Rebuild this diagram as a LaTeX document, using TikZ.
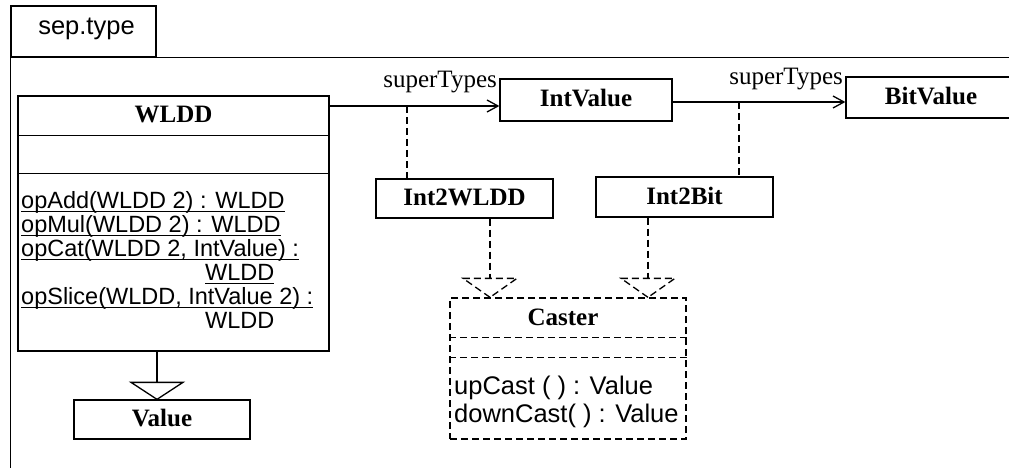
\documentclass[tikz,border=0pt]{standalone}
\usepackage{fontspec}
\setmainfont{Liberation Serif}
\newfontfamily\sansf{Liberation Sans}
\usetikzlibrary{arrows.meta,calc}
\newsavebox\ulbox
\newcommand\myul[1]{\sbox\ulbox{#1}\rlap{\rule[-3.2pt]{\wd\ulbox}{1.2pt}}\usebox\ulbox}
\tikzset{
 lw/.style={line width=1.3pt},
 cls/.style={draw, lw, rectangle, inner sep=0pt, font=\fontsize{25}{30}\selectfont\bfseries, text height=17pt, text depth=3pt},
 meth/.style={anchor=base west, inner sep=0pt, font=\sansf\fontsize{23.5}{24}\selectfont},
 cmeth/.style={anchor=base west, inner sep=0pt, font=\sansf\fontsize{25.5}{28}\selectfont},
 role/.style={anchor=base east, inner sep=0pt, font=\fontsize{25}{30}\selectfont},
 dsh/.style={lw, dash pattern=on 7pt off 4pt},
 assoc/.style={lw, -{Straight Barb[length=11pt,width=12pt]}},
}
\begin{document}
\begin{tikzpicture}[x=1pt,y=-1pt]
\useasboundingbox (0,0) rectangle (1009,468);
% package
\node[draw,lw,minimum width=145pt,minimum height=51pt,inner sep=0pt] (tab) at (83.5,31.5) {};
\node[anchor=base,inner sep=0pt,font=\sansf\fontsize{25.5}{30}\selectfont] (tabt) at (86.5,35) {sep.type};
\draw[lw] (tab.south west -| 1012,0) -| (tab.south west |- 0,472);
% WLDD
\node[draw,lw,minimum width=311pt,minimum height=255pt,inner sep=0pt] (wldd) at (173.5,223.5) {};
\node[cls,draw=none,minimum width=311pt,minimum height=40pt] (wlddt) at (173.5,116) {WLDD};
\draw[lw] ($(wldd.north west)+(0,40)$) -- ($(wldd.north east)+(0,40)$);
\draw[lw] ($(wldd.north west)+(0,78)$) -- ($(wldd.north east)+(0,78)$);
\node[meth] (m1) at (21,208.5) {\myul{opAdd(WLDD 2) : WLDD}};
\node[meth] (m2) at (21,232.5) {\myul{opMul(WLDD 2) : WLDD}};
\node[meth] (m3) at (21,256.5) {\myul{opCat(WLDD 2, IntValue) :}};
\node[meth] (m4) at (205,280.5) {\myul{WLDD}};
\node[meth] (m5) at (21,304.5) {\myul{opSlice(WLDD, IntValue 2) :}};
\node[meth] (m6) at (205,328.5) {WLDD};
% Value
\node[cls,minimum width=176pt,minimum height=39pt] (value) at (162,419.5) {Value};
\coordinate (g) at ($(value.north)+(-5,0)$);
\draw[lw] (g |- wldd.south) -- ($(g)+(0,-17)$);
\draw[lw] (g) -- ++(-26,-17) -- ++(52,0) -- cycle;
% IntValue, BitValue
\node[cls,minimum width=172pt,minimum height=42pt] (intv) at (586,100) {IntValue};
\node[cls,minimum width=170pt,minimum height=41pt] (bitv) at (931,97.5) {BitValue};
\coordinate (a1) at ($(intv.west)+(0,6)$);
\draw[assoc] (a1 -| wldd.east) -- (a1);
\node[role] (r1) at (497,88) {superTypes};
\coordinate (a2) at ($(bitv.west)+(0,4.5)$);
\draw[assoc] (a2 -| intv.east) -- (a2);
\node[role] (r2) at (843,85) {superTypes};
% association classes
\node[cls,minimum width=177pt,minimum height=39pt] (i2w) at (464.5,198.5) {Int2WLDD};
\node[cls,minimum width=177pt,minimum height=40pt] (i2b) at (684.5,197) {Int2Bit};
\coordinate (j1) at (407,106);
\draw[dsh] (j1) -- (j1 |- i2w.north);
\coordinate (j2) at (739,102);
\draw[dsh] (j2) -- (j2 |- i2b.north);
% Caster
\node[draw,dsh,minimum width=236pt,minimum height=141pt,inner sep=0pt] (caster) at (568,368.5) {};
\node[cls,draw=none] (castert) at (563,318) {Caster};
\draw[dsh] ($(caster.north west)+(0,40)$) -- ($(caster.north east)+(0,40)$);
\draw[dsh] ($(caster.north west)+(0,60)$) -- ($(caster.north east)+(0,60)$);
\node[cmeth] (c1) at (454,394) {upCast ( ) : Value};
\node[cmeth] (c2) at (454,422) {downCast( ) : Value};
% realizations
\coordinate (p1) at (caster.north -| 490,0);
\draw[dsh] (p1 |- i2w.south) -- ($(p1)+(0,-19)$);
\draw[dsh] (p1) -- ++(-27,-19) -- ++(54,0) -- cycle;
\coordinate (p2) at (caster.north -| 648,0);
\draw[dsh] (p2 |- i2b.south) -- ($(p2)+(0,-19)$);
\draw[dsh] (p2) -- ++(-27,-19) -- ++(54,0) -- cycle;
\end{tikzpicture}
\end{document}
